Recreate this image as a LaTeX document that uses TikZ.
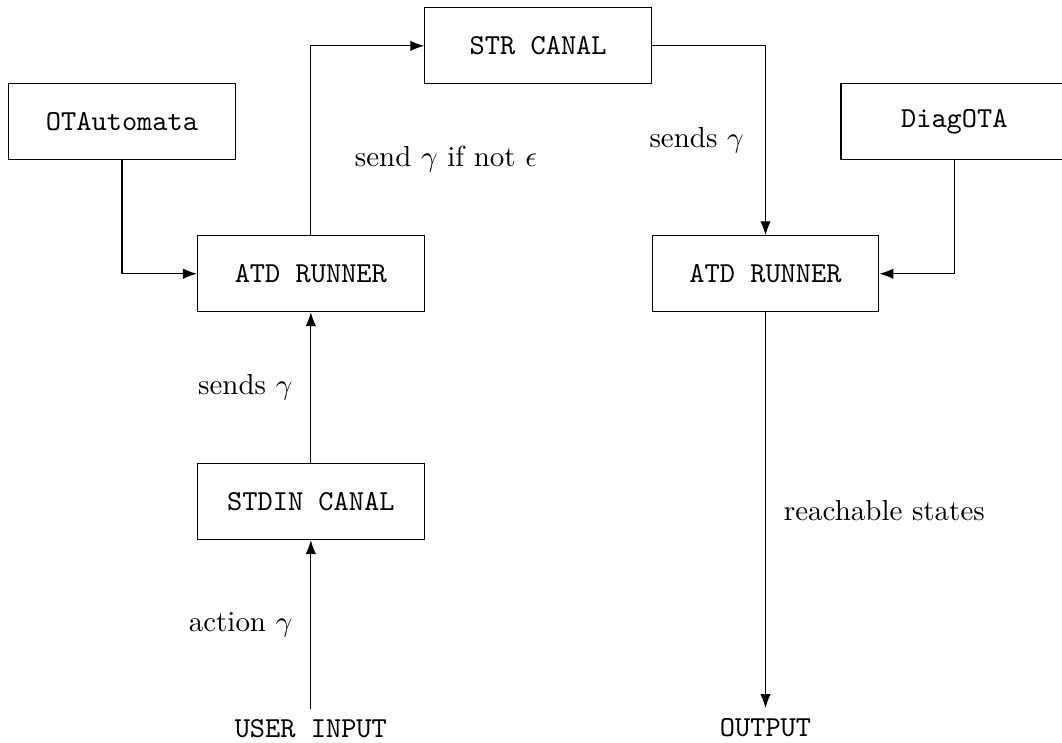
\documentclass[tikz,border=0pt]{standalone}
\usepackage{amsmath}
\usepackage{tikz}
\usetikzlibrary{positioning}
\usetikzlibrary{arrows.meta}
\usetikzlibrary{calc}

\begin{document}
\begin{tikzpicture}[
        box/.style={
            rectangle,
            draw,
            minimum width=2.75cm,
            minimum height=0.92cm,
            align=center,
            font=\ttfamily
        },
        endpoint/.style={font=\ttfamily},
        arrow/.style={-{Latex}},
        node distance=1.83cm
    ]
    \useasboundingbox (-3.77,-5.68) rectangle (9.11,3.32);

    \node[box] (runL) {ATD RUNNER};
    \node[box, right=2.75cm of runL] (runR) {ATD RUNNER};
    \node[box, below=of runL] (stdin) {STDIN CANAL};
    \node[endpoint, below=2.05cm of stdin] (input) {USER INPUT};
    \node[endpoint, below=4.8cm of runR] (output) {OUTPUT};
    \node[box, above=of $(runL.north)!0.5!(runR.north)$] (str) {STR CANAL};
    \node[box, above=0.91cm of runL, xshift=-2.29cm] (ota) {OTAutomata};
    \node[box, above=0.91cm of runR, xshift=2.29cm] (diag) {DiagOTA};

    \draw[arrow] (ota) |- (runL);
    \draw[arrow] (diag) |- (runR);
    \draw[arrow] (runL) |- node[pos=0.2, right=0.41cm] {send $\gamma$ if not $\epsilon$} (str);
    \draw[arrow] (str) -| node[pos=0.75, left=0.14cm] {sends $\gamma$} (runR);
    \draw[arrow] (stdin) -- node[left=0.1cm] {sends $\gamma$} (runL);
    \draw[arrow] (input) -- node[left=0.1cm] {action $\gamma$} (stdin);
    \draw[arrow] (runR) -- node[right=0.1cm] {reachable states} (output);

\end{tikzpicture}
\end{document}
